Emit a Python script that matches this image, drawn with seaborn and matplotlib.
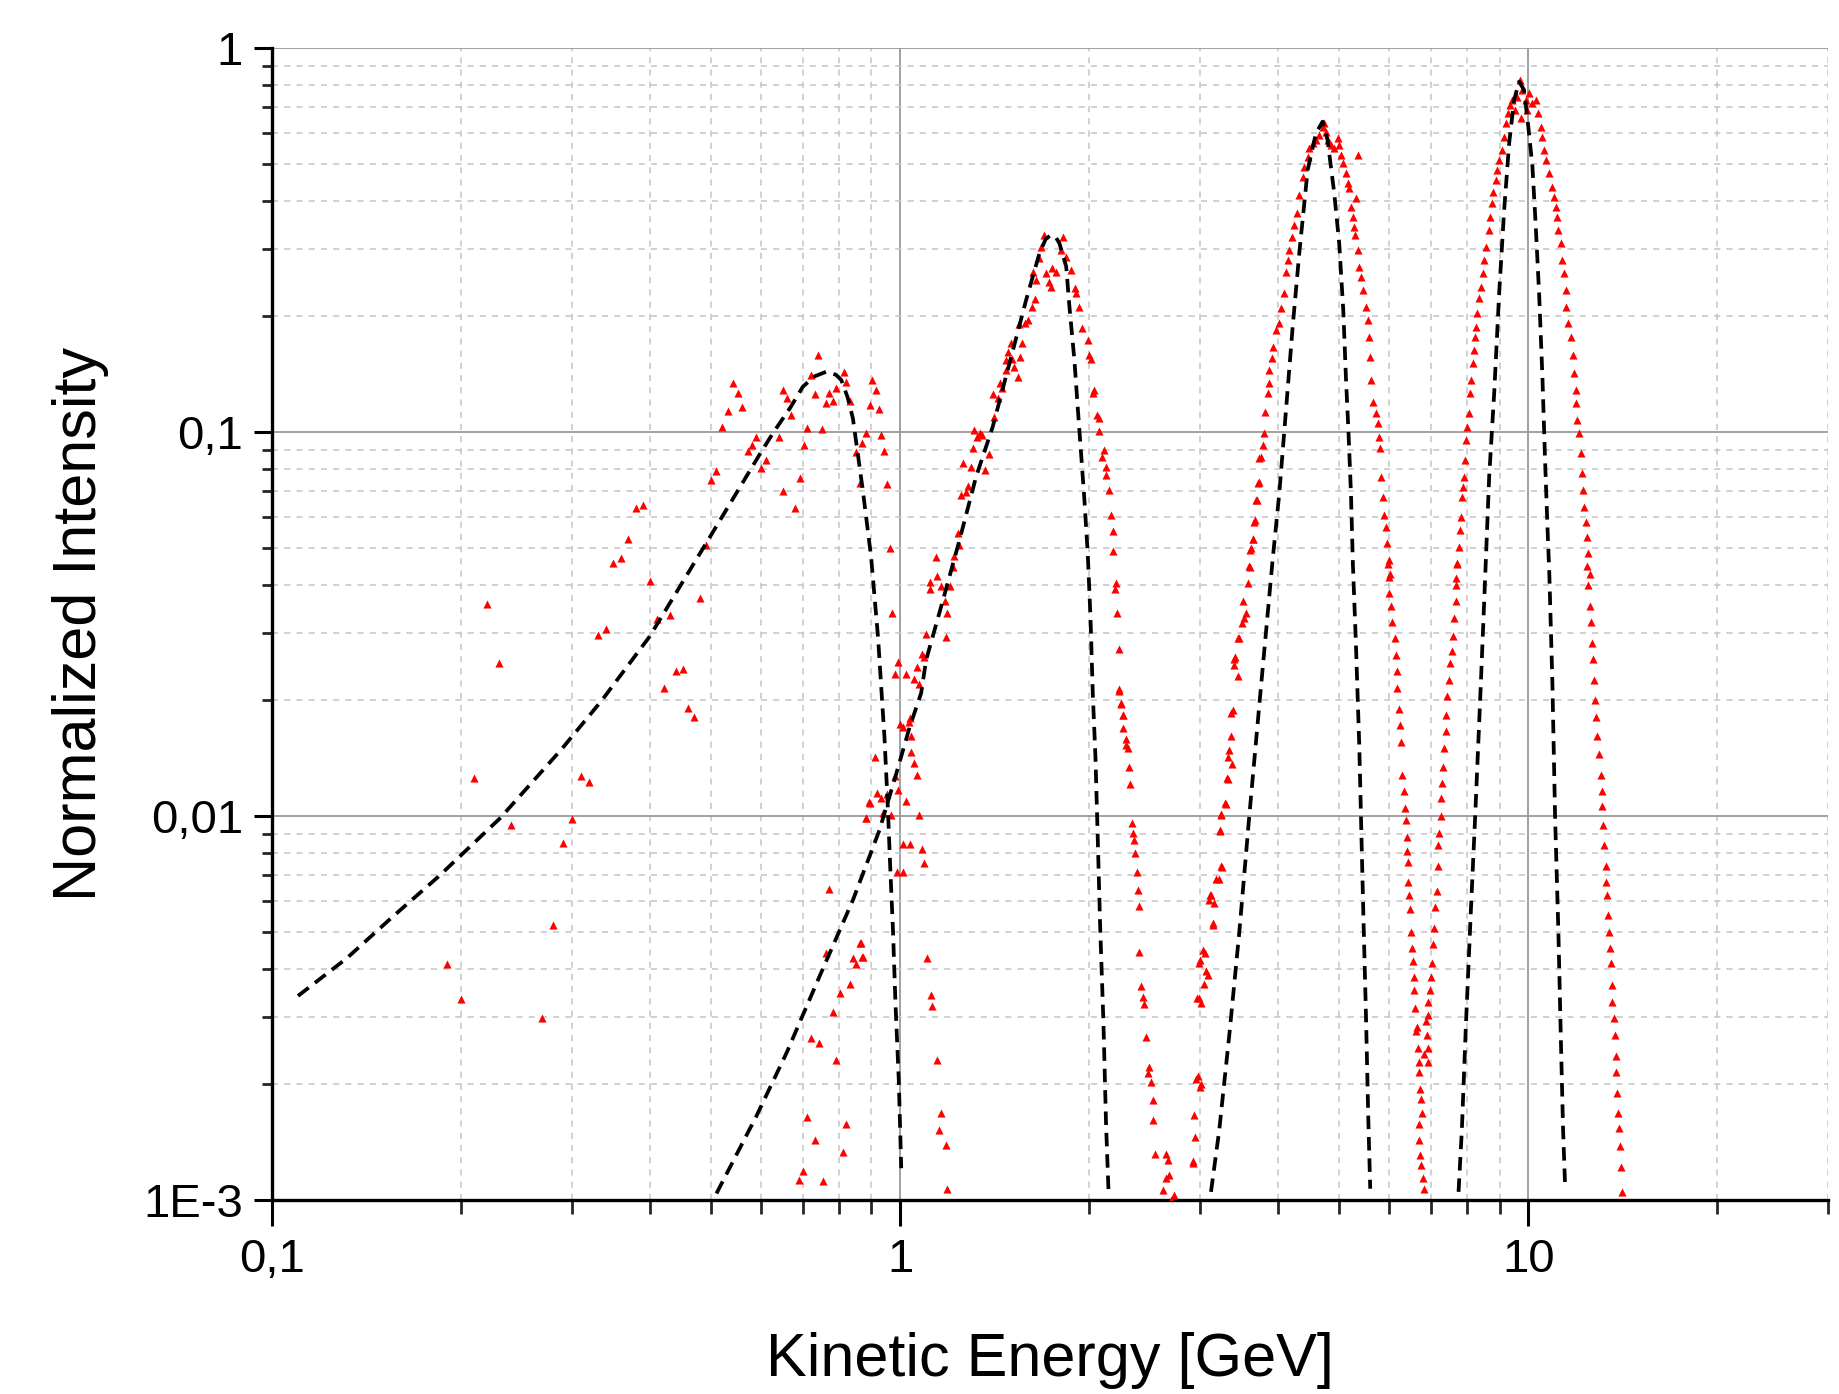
import numpy as np
import pandas as pd
import matplotlib
matplotlib.use("Agg")
import matplotlib.pyplot as plt
import seaborn as sns
from matplotlib.ticker import LogLocator, NullFormatter, FixedLocator, FixedFormatter

# ---------------- data ----------------
# model curves (black dashed): (kinetic energy [GeV], normalized intensity)
curve1 = [(0.110,0.0034),(0.1315,0.00426),(0.1557,0.00547),(0.184,0.00695),(0.2306,0.00986),
          (0.2884,0.01486),(0.335,0.0200),(0.399,0.0293),(0.491,0.0513),(0.599,0.088),
          (0.627,0.0992),(0.670,0.1164),(0.700,0.1312),(0.730,0.1395),(0.763,0.1436),
          (0.790,0.1410),(0.806,0.1366),(0.825,0.123),(0.841,0.1085),(0.872,0.0706),
          (0.899,0.0473),(0.922,0.0293),(0.935,0.0205),(0.944,0.0161),(0.956,0.0105),
          (0.964,0.00745),(0.974,0.00505),(0.983,0.00325),(0.995,0.00205),(1.004,0.00121)]
curve2 = [(0.510,0.00104),(0.590,0.00165),(0.659,0.00241),(0.744,0.00382),(0.841,0.00604),
          (0.927,0.00919),(0.986,0.0129),(1.035,0.0170),(1.080,0.0209),(1.1,0.0255),
          (1.17,0.0365),(1.243,0.0523),(1.321,0.0765),(1.404,0.1032),(1.493,0.151),
          (1.587,0.2207),(1.666,0.2919),(1.705,0.318),(1.739,0.326),(1.770,0.321),
          (1.793,0.31),(1.838,0.2695),(1.86,0.212),(1.894,0.154),(1.917,0.1164),
          (1.941,0.088),(1.965,0.0665),(1.989,0.0483),(2.009,0.033),(2.026,0.0209),
          (2.046,0.01427),(2.063,0.00884),(2.081,0.00525),(2.107,0.00288),(2.127,0.00158),
          (2.148,0.00102)]
curve3 = [(3.125,0.00105),(3.221,0.00152),(3.342,0.00269),(3.467,0.00499),(3.596,0.0100),
          (3.731,0.0195),(3.917,0.0464),(4.014,0.0692),(4.114,0.1141),(4.216,0.188),
          (4.319,0.2919),(4.454,0.4812),(4.591,0.5994),(4.704,0.643),(4.791,0.5759),
          (4.91,0.4183),(5.0,0.3099),(5.075,0.2078),(5.124,0.1393),(5.174,0.0992),
          (5.22,0.0692),(5.258,0.045),(5.315,0.0283),(5.382,0.0152),(5.415,0.0100),
          (5.461,0.00565),(5.515,0.00304),(5.562,0.00164),(5.602,0.00107)]
curve4 = [(7.744,0.00105),(7.838,0.00152),(7.953,0.00282),(8.101,0.00565),(8.231,0.0100),
          (8.403,0.0221),(8.559,0.0464),(8.664,0.0765),(8.824,0.126),(8.987,0.2297),
          (9.153,0.3785),(9.322,0.5645),(9.493,0.7322),(9.669,0.8172),(9.847,0.7772),
          (10.0,0.6238),(10.153,0.4909),(10.278,0.3425),(10.404,0.2297),(10.531,0.1393),
          (10.634,0.0845),(10.727,0.0567),(10.80,0.043),(10.924,0.0221),(11.031,0.0100),
          (11.166,0.00499),(11.264,0.00269),(11.36,0.00152),(11.444,0.00109)]

# simulation points (red triangles)
sim1 = [(0.741,0.1587),(0.542,0.1344),(0.552,0.126),(0.532,0.1136),(0.561,0.1164),(0.520,0.1028),
        (0.651,0.1286),(0.661,0.1229),(0.671,0.1107),(0.722,0.1408),(0.731,0.1253),(0.770,0.1265),
        (0.791,0.13),(0.813,0.1436),(0.821,0.1352),(0.763,0.1187),(0.781,0.1207),(0.831,0.1204),
        (0.903,0.1366),(0.914,0.1286),(0.894,0.1176),(0.925,0.1146),(0.711,0.1022),(0.752,0.1016),
        (0.883,0.0992),(0.933,0.0982),(0.590,0.0969),(0.641,0.0969),(0.581,0.0925),(0.573,0.0894),
        (0.702,0.0925),(0.870,0.0934),(0.942,0.0894),(0.851,0.0888),(0.611,0.0845),(0.601,0.0807),
        (0.692,0.076),(0.510,0.0791),(0.499,0.075),(0.862,0.0735),(0.953,0.0731),(0.651,0.0701),
        (0.680,0.0633),(0.390,0.0645),(0.380,0.0633),(0.369,0.0528),(0.359,0.0469),(0.349,0.0455),
        (0.490,0.0508),(0.964,0.0498),(0.400,0.041),(0.480,0.0369),(0.971,0.0338),(0.430,0.0334),
        (0.410,0.0325),(0.220,0.0356),(0.340,0.0307),(0.330,0.0296),(0.230,0.025),(0.451,0.0241),
        (0.440,0.0238),(0.421,0.0216),(0.460,0.0191),(0.470,0.0181),(0.210,0.01253),(0.310,0.01274),
        (0.320,0.01224),(0.300,0.00984),(0.240,0.00948),(0.2906,0.00849),(0.280,0.0052),
        (0.190,0.00412),(0.200,0.00333),(0.2695,0.00297)]
sim2 = [(0.770,0.00645),(0.763,0.00441),(0.862,0.00466),(0.841,0.00428),(0.870,0.0043),(0.851,0.00412),
        (0.831,0.00365),(0.803,0.00345),(0.781,0.00308),(0.722,0.00264),(0.742,0.00257),(0.791,0.00231),
        (0.711,0.00164),(0.821,0.00158),(0.731,0.00143),(0.811,0.00133),(0.700,0.00119),(0.690,0.00113),
        (0.753,0.00112),(0.987,0.00716),(1.009,0.00846),(0.883,0.00986),(0.894,0.0108),
        (1.0,0.01737),(1.032,0.0176),(1.01,0.0171),(1.041,0.01616),(0.911,0.01427),(1.041,0.01471),
        (1.054,0.01377),(1.063,0.01279),(0.983,0.01271),(0.992,0.01169),(0.918,0.01146),(0.953,0.0114),
        (0.933,0.01112),(0.892,0.0109),(1.02,0.01096),(0.939,0.0102),(0.968,0.01006),(1.071,0.01006),
        (0.881,0.00986),(1.035,0.00845),(1.084,0.00819),(1.09,0.00753),(1.01,0.00716),(0.867,0.00466),
        (0.873,0.0043),(1.103,0.00426),(1.12,0.00342),(1.124,0.0032),(1.144,0.00232),(1.162,0.00168),
        (1.152,0.00152),(1.181,0.00139),(1.187,0.00107),
        (2.234,0.0211),(2.247,0.0196),(2.261,0.0183),(2.267,0.0169),(2.289,0.01584),(2.289,0.01531),
        (2.303,0.015),(2.317,0.01339),(2.323,0.01212),(2.34,0.0096),(2.351,0.00905),(2.36,0.00866),
        (2.369,0.00803),(2.38,0.00713),(2.389,0.00642),(2.404,0.00583),(2.404,0.00442),(2.418,0.00361),
        (2.433,0.00338),(2.448,0.00324),(2.463,0.00266),(2.487,0.00222),(2.478,0.00214),(2.508,0.00203),
        (2.523,0.00182),(2.529,0.00162),(2.548,0.00132),(2.65,0.00132),(2.667,0.00127),(2.683,0.00116),
        (2.65,0.00114),(2.624,0.00106),(2.733,0.00103),(2.699,0.001),
        (1.697,0.326),(1.815,0.3226),(1.676,0.304),(1.804,0.2978),(1.838,0.2861),(1.666,0.2833),
        (1.745,0.2669),(1.771,0.2616),(1.708,0.259),(1.871,0.2642),(1.626,0.2616),(1.646,0.2488),
        (1.728,0.2463),(1.739,0.239),(1.901,0.2367),(1.905,0.2297),(1.642,0.2215),(1.622,0.2112),
        (1.924,0.212),(1.597,0.1957),(1.583,0.1919),(1.948,0.1869),(1.545,0.1911),(1.989,0.1737),
        (1.564,0.1702),(1.502,0.1702),(2.001,0.1585),(2.013,0.1546),(1.484,0.1619),(1.549,0.1571),
        (1.475,0.154),(1.508,0.1546),(1.52,0.148),(1.539,0.1393),(1.472,0.145),(1.443,0.1344),
        (1.453,0.13),(1.404,0.1256),(1.43,0.1224),(2.038,0.1286),(2.026,0.126),(1.413,0.1097),
        (2.055,0.1107),(2.071,0.1085),(1.313,0.1012),(1.338,0.0992),(1.325,0.0973),(1.35,0.0982),
        (2.076,0.1008),(1.305,0.0907),(1.387,0.0876),(2.114,0.0898),(2.096,0.0863),(1.261,0.0829),
        (1.297,0.0812),(1.367,0.0796),(2.127,0.0812),(2.127,0.0773),(1.281,0.0723),(1.271,0.0699),
        (1.251,0.0685),(2.153,0.0706),(2.166,0.0608),(2.18,0.0552),(1.235,0.0545),(1.243,0.0508),
        (1.141,0.0473),(1.22,0.0475),(2.186,0.049),(1.213,0.0446),(1.144,0.0422),(1.116,0.0408),
        (1.162,0.0396),(1.201,0.0396),(1.114,0.0389),(2.207,0.0404),(2.202,0.0389),(1.177,0.0362),
        (1.187,0.0337),(2.212,0.0337),(1.1,0.0298),(1.184,0.0292),(2.228,0.0272),(1.084,0.0264),
        (1.093,0.026),(0.992,0.0252),(1.063,0.0245),(0.983,0.0234),(1.02,0.0234),(1.054,0.0228),
        (1.071,0.0221),(2.234,0.0214),(2.247,0.0197),(2.261,0.0183),(1.035,0.018)]
sim3 = [(3.596,0.0447),(3.574,0.0405),(3.509,0.0362),(3.53,0.0328),(3.458,0.029),(3.404,0.0256),
        (3.445,0.0232),(3.362,0.01856),(3.362,0.0162),(3.342,0.01485),(3.374,0.01362),(3.322,0.01249),
        (3.301,0.01076),(3.242,0.0101),(3.229,0.00916),(3.242,0.00742),(3.221,0.00685),(3.125,0.00624),
        (3.164,0.00594),(3.145,0.00525),(3.031,0.00447),(2.994,0.00414),(3.069,0.00394),(3.05,0.00366),
        (2.994,0.00336),(2.976,0.0021),(3.013,0.002),(2.94,0.00166),(2.951,0.00146),(2.93,0.00126),
        (3.382,0.0189),(3.322,0.01427),(3.31,0.01253),(3.293,0.01079),(3.241,0.01006),(3.23,0.00919),
        (3.253,0.00738),(3.183,0.00684),(3.114,0.00623),(3.106,0.00604),(3.152,0.0052),(3.061,0.00439),
        (3.0,0.00422),(3.087,0.00385),(3.013,0.00325),(2.965,0.00335),(3.0,0.00197),(2.958,0.00207),
        (2.921,0.00125),
        (3.73,0.0854),(3.71,0.0735),(3.685,0.0665),(3.663,0.0584),(3.64,0.0528),(3.618,0.0498),
        (3.605,0.0446),(3.552,0.0337),(3.5,0.0318),(3.445,0.029),(3.416,0.026),(3.404,0.0247),
        (3.605,0.0493),(3.649,0.0528),(3.676,0.059),(3.694,0.0665),(3.721,0.0743),(3.753,0.0863),
        (3.776,0.0925),(3.8,0.0992),(3.814,0.113),(3.846,0.126),(3.861,0.1338),(3.87,0.145),
        (3.908,0.1555),(3.926,0.1667),(3.965,0.1843),(4.004,0.1919),(4.039,0.2099),(4.088,0.2297),
        (4.114,0.2616),(4.139,0.2805),(4.164,0.2978),(4.205,0.3226),(4.241,0.3459),(4.277,0.371),
        (4.309,0.4143),(4.372,0.4624),(4.399,0.4909),(4.453,0.5212),(4.48,0.5478),(4.535,0.5645),
        (4.591,0.5759),(4.647,0.5934),(4.704,0.6238),(4.733,0.6364),(4.762,0.6053),(4.791,0.5759),
        (4.85,0.5589),(4.91,0.5478),(4.97,0.5817),(5.0,0.5589),(5.03,0.5264),(5.075,0.5007),
        (5.35,0.5264),(5.124,0.4718),(5.156,0.4443),(5.188,0.4311),(5.315,0.4061),(5.22,0.3862),
        (5.252,0.3637),(5.284,0.3425),(5.304,0.3258),(5.35,0.2978),(5.382,0.2695),(5.415,0.2538),
        (5.448,0.2343),(5.515,0.212),(5.549,0.1957),(5.583,0.1771),(5.597,0.1571),(5.617,0.1366),
        (5.665,0.1199),(5.721,0.1118),(5.754,0.1054),(5.776,0.0973),(5.804,0.0907),(5.825,0.0765),
        (5.861,0.0679),(5.897,0.0608),(5.933,0.0567),(5.948,0.0513),(5.992,0.0464),(6.021,0.0428),
        (5.97,0.0453),(5.992,0.042),(6.007,0.0381),(6.04,0.0353),(6.078,0.032),(6.136,0.029),
        (6.152,0.0262),(6.19,0.0238),(6.19,0.0215),(6.228,0.019),(6.243,0.01723),(6.266,0.0156),
        (6.305,0.0128),(6.344,0.0116),(6.368,0.0105),(6.383,0.00975),(6.406,0.00882),(6.422,0.00809),
        (6.445,0.0076),(6.445,0.00672),(6.461,0.00624),(6.485,0.00572),(6.501,0.00499),(6.541,0.00452),
        (6.557,0.0042),(6.581,0.0038),(6.581,0.00353),(6.605,0.00316),(6.638,0.00282),(6.663,0.00249),
        (6.687,0.00229),(6.704,0.00215),(6.72,0.00195),(6.745,0.00183),(6.77,0.00168),(6.704,0.00158),
        (6.687,0.00143),(6.72,0.00131),(6.745,0.00123),(6.803,0.00114),(6.83,0.00107),(6.622,0.00275)]
sim4 = [(7.666,0.0416),(7.713,0.0455),(7.761,0.0503),(7.78,0.0556),(7.809,0.0602),(7.837,0.0679),
        (7.876,0.0721),(7.905,0.0765),(7.934,0.0845),(7.953,0.0953),(8.002,0.1032),(8.051,0.1118),
        (8.081,0.126),(8.101,0.1366),(8.151,0.151),(8.181,0.1634),(8.22,0.177),(8.25,0.188),
        (8.3,0.2037),(8.352,0.2229),(8.403,0.239),(8.455,0.259),(8.507,0.2805),(8.559,0.3038),
        (8.643,0.3357),(8.685,0.3637),(8.749,0.3939),(8.791,0.4225),(8.877,0.4531),(8.932,0.4812),
        (8.987,0.5108),(9.075,0.5425),(9.153,0.5875),(9.21,0.6364),(9.266,0.6759),(9.345,0.7105),
        (9.436,0.7322),(9.528,0.6894),(9.61,0.7469),(9.692,0.8254),(9.788,0.7772),(9.727,0.6557),
        (9.908,0.7322),(9.968,0.6894),(10.03,0.762),(10.153,0.7177),(10.278,0.7322),(10.378,0.6759),
        (10.467,0.6238),(10.531,0.5875),(10.597,0.5425),(10.688,0.5108),(10.793,0.4718),(10.898,0.4353),
        (10.992,0.4101),(11.06,0.3862),(11.128,0.3637),(11.168,0.3357),(11.264,0.3099),(11.333,0.2805),
        (11.402,0.259),(11.473,0.2343),(11.501,0.212),(11.586,0.1919),(11.685,0.177),(11.785,0.1587),
        (11.829,0.1421),(11.901,0.1286),(11.931,0.1187),(11.975,0.1074),(12.048,0.0992),(12.12,0.088),
        (12.165,0.078),(12.225,0.0706),(12.27,0.0639),(12.344,0.0584),(12.42,0.0534),(12.466,0.0483),
        (12.526,0.0428),
        (7.713,0.0453),(7.685,0.04),(7.666,0.0362),(7.62,0.0328),(7.592,0.0294),(7.555,0.0269),
        (7.5,0.025),(7.464,0.0226),(7.436,0.0205),(7.391,0.01833),(7.391,0.0166),(7.346,0.01503),
        (7.319,0.01344),(7.301,0.01218),(7.257,0.01117),(7.257,0.00999),(7.212,0.00905),(7.194,0.0084),
        (7.169,0.00742),(7.143,0.00639),(7.108,0.00579),(7.082,0.00512),(7.056,0.00463),(7.038,0.00414),
        (6.995,0.0038),(6.97,0.00353),(6.936,0.00327),(6.911,0.00304),(6.869,0.00293),(6.886,0.00269),
        (6.936,0.00249),(6.911,0.00229),(6.828,0.0024),
        (12.42,0.0447),(12.466,0.04),(12.526,0.0353),(12.572,0.032),(12.618,0.0283),(12.68,0.0256),
        (12.727,0.0226),(12.774,0.02),(12.805,0.0181),(12.882,0.0162),(12.963,0.01449),(13.042,0.0128),
        (13.09,0.0116),(13.122,0.01063),(13.152,0.0095),(13.2,0.0084),(13.283,0.00742),(13.314,0.00672),
        (13.363,0.00624),(13.412,0.00551),(13.446,0.00499),(13.477,0.00452),(13.527,0.00414),
        (13.577,0.00362),(13.61,0.00327),(13.693,0.00297),(13.744,0.00269),(13.778,0.00237),
        (13.81,0.00215),(13.861,0.0019),(13.912,0.00168),(13.947,0.00154),(13.981,0.00138),
        (14.032,0.00122),(14.084,0.00105)]

x_ticks = [0.1, 1, 10]
x_tick_labels = ["0,1", "1", "10"]
y_ticks = [0.001, 0.01, 0.1, 1]
y_tick_labels = ["1E-3", "0,01", "0,1", "1"]
x_label = "Kinetic Energy [GeV]"
y_label = "Normalized Intensity"

# ---------------- build tables ----------------
curve_df = pd.concat(
    [pd.DataFrame(c, columns=["E", "I"]).assign(curve=i) for i, c in enumerate([curve1, curve2, curve3, curve4])],
    ignore_index=True)
sim_df = pd.concat(
    [pd.DataFrame(s, columns=["E", "I"]).assign(set=i) for i, s in enumerate([sim1, sim2, sim3, sim4])],
    ignore_index=True)

# ---------------- plot ----------------
sns.set_style("white")
plt.rcParams["font.family"] = ["Liberation Sans", "DejaVu Sans"]

W, H = 1839, 1394
fig = plt.figure(figsize=(W / 100, H / 100), dpi=100)
L, R, T, B = 272, 1828, 48, 1200
ax = fig.add_axes([L / W, 1 - B / H, (R - L) / W, (B - T) / H])

ax.set_xscale("log")
ax.set_yscale("log")

sns.scatterplot(data=sim_df, x="E", y="I", ax=ax, marker="^", color="#ff0000",
                s=34, linewidth=0, legend=False, zorder=3)
sns.lineplot(data=curve_df, x="E", y="I", units="curve", estimator=None, sort=False,
             ax=ax, color="black", lw=2.7, linestyle=(0, (3.6, 2.1)), legend=False, zorder=4)

ax.set_xlim(0.1, 30)
ax.set_ylim(0.001, 1)

ax.xaxis.set_major_locator(FixedLocator(x_ticks))
ax.xaxis.set_major_formatter(FixedFormatter(x_tick_labels))
ax.yaxis.set_major_locator(FixedLocator(y_ticks))
ax.yaxis.set_major_formatter(FixedFormatter(y_tick_labels))
ax.xaxis.set_minor_locator(LogLocator(base=10, subs=np.arange(2, 10), numticks=20))
ax.yaxis.set_minor_locator(LogLocator(base=10, subs=np.arange(2, 10), numticks=20))
ax.xaxis.set_minor_formatter(NullFormatter())
ax.yaxis.set_minor_formatter(NullFormatter())

ax.set_axisbelow(True)
ax.grid(which="major", color="#9a9a9a", lw=1.3, ls="-")
ax.grid(which="minor", color="#c4c4c4", lw=1.1, ls=(0, (4, 4)))

for s in ["top", "right"]:
    ax.spines[s].set_visible(False)
for s in ["left", "bottom"]:
    ax.spines[s].set_color("black")
    ax.spines[s].set_linewidth(2.4)

ax.tick_params(axis="x", which="major", direction="out", length=19, width=2.2, pad=8,
               labelsize=34, colors="black", bottom=True)
ax.tick_params(axis="x", which="minor", direction="out", length=10, width=2.0, bottom=True)
ax.tick_params(axis="y", which="major", direction="out", length=13, width=2.2, pad=8,
               labelsize=34, colors="black", left=True)
ax.tick_params(axis="y", which="minor", direction="out", length=7, width=2.0, left=True)

ax.set_xlabel(x_label, fontsize=44, color="black")
ax.set_ylabel(y_label, fontsize=44, color="black")
ax.xaxis.set_label_coords(0.5, -0.115)
ax.yaxis.set_label_coords(-0.105, 0.5)

fig.savefig("out.png", dpi=100, facecolor="white")
